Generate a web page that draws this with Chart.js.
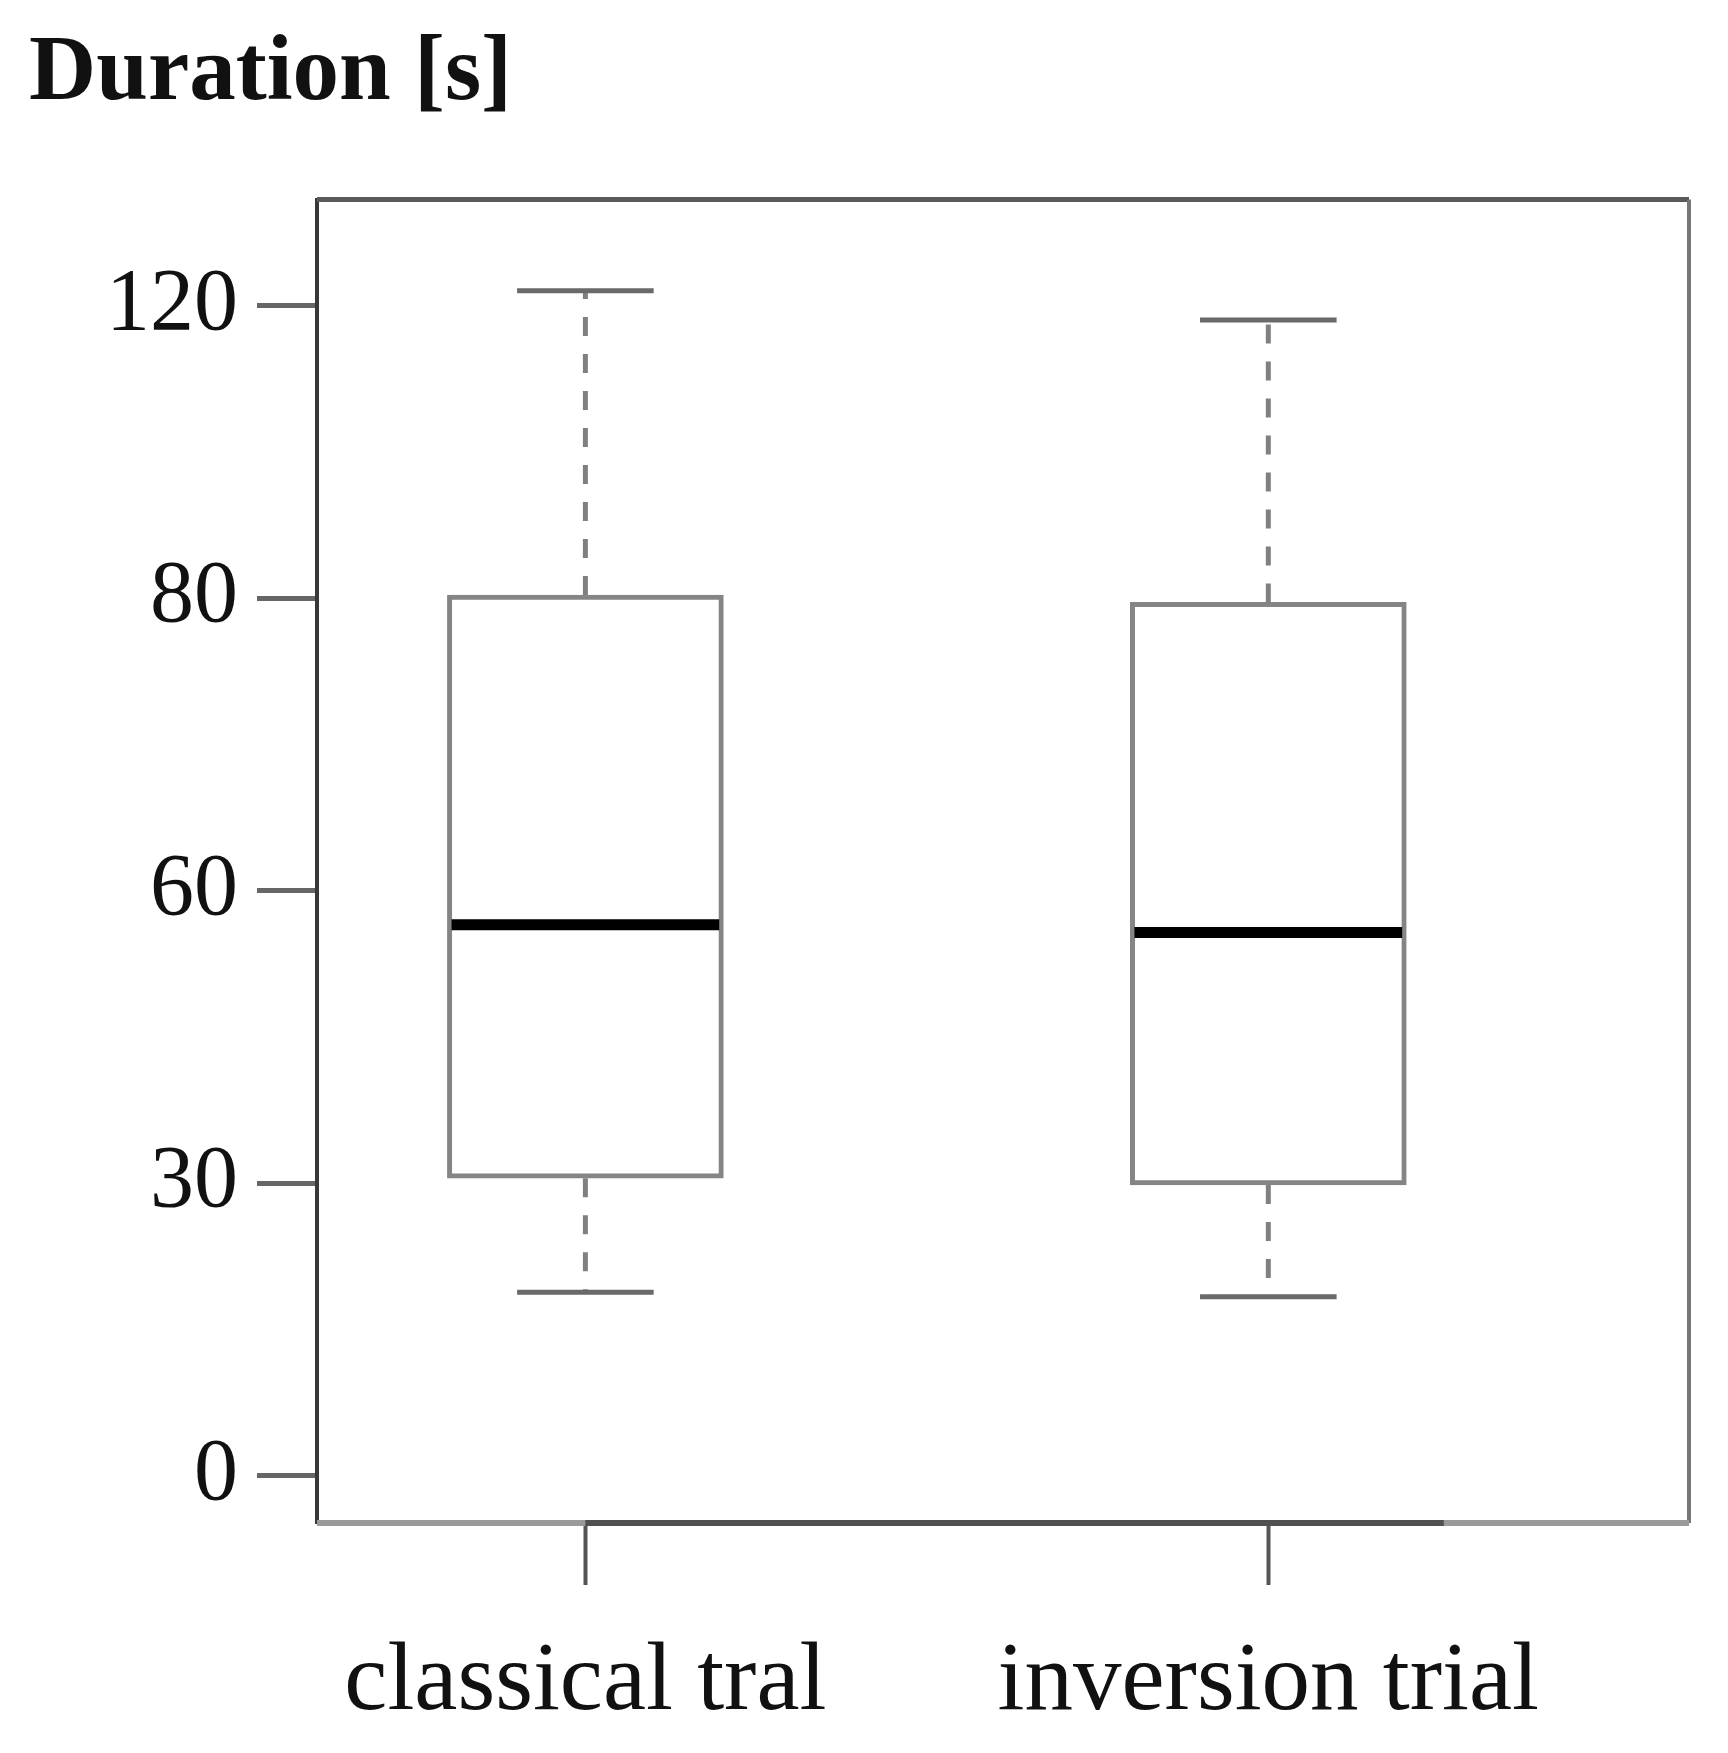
<!DOCTYPE html>
<html>
<head>
<meta charset="utf-8">
<script src="https://cdn.jsdelivr.net/npm/chart.js@4.4.1/dist/chart.umd.min.js"></script>
<style>
  html, body { margin: 0; padding: 0; background: #fff; }
  #wrap { width: 1728px; height: 1753px; }
</style>
</head>
<body>
<div id="wrap"><canvas id="grafico"></canvas></div>
<script>
// data (seconds)
const categorias = ['classical tral', 'inversion trial'];
const minimos = [18.8, 18.35];
const q1 = [30.5, 29.8];
const medianas = [56.5, 55.7];
const q3 = [80.4, 79.7];
const maximos = [122.0, 118.0];
// the y axis is not linear: ticks are evenly spaced
const yTicks = [0, 30, 60, 80, 120];

// value -> position on the evenly spaced tick axis
function posicao(v) {
  const n = yTicks.length;
  let i = 0;
  if (v >= yTicks[n - 1]) i = n - 2;
  else while (i < n - 2 && v > yTicks[i + 1]) i++;
  return i + (v - yTicks[i]) / (yTicks[i + 1] - yTicks[i]);
}

const serif = "'Liberation Serif', 'DejaVu Serif', serif";
const capMeia = 0.1;

const caixas = categorias.map((c, i) => ({ x: i, y: [posicao(q1[i]), posicao(q3[i])] }));
const bigodes = [];
const tampas = [];
const linhasMediana = [];
categorias.forEach((c, i) => {
  bigodes.push({ x: i, y: posicao(q3[i]) }, { x: i, y: posicao(maximos[i]) }, { x: i, y: null });
  bigodes.push({ x: i, y: posicao(q1[i]) }, { x: i, y: posicao(minimos[i]) }, { x: i, y: null });
  tampas.push({ x: i - capMeia, y: posicao(maximos[i]) }, { x: i + capMeia, y: posicao(maximos[i]) }, { x: i, y: null });
  tampas.push({ x: i - capMeia, y: posicao(minimos[i]) }, { x: i + capMeia, y: posicao(minimos[i]) }, { x: i, y: null });
  linhasMediana.push({ x: i - 0.196, y: posicao(medianas[i]) }, { x: i + 0.196, y: posicao(medianas[i]) }, { x: i, y: null });
});

// frame around the plot, with the darker R-style axis segment at the bottom
const moldura = {
  id: 'moldura',
  beforeDatasetsDraw(chart) {
    const { ctx, chartArea: a, scales } = chart;
    ctx.save();
    ctx.lineCap = 'butt';
    ctx.strokeStyle = '#5a5a5a';
    ctx.lineWidth = 5;
    ctx.beginPath(); ctx.moveTo(a.left, a.top); ctx.lineTo(a.right, a.top); ctx.stroke();
    ctx.strokeStyle = '#777';
    ctx.lineWidth = 4;
    ctx.beginPath(); ctx.moveTo(a.right, a.top); ctx.lineTo(a.right, a.bottom); ctx.stroke();
    ctx.strokeStyle = '#9a9a9a';
    ctx.lineWidth = 6;
    ctx.beginPath(); ctx.moveTo(a.left, a.bottom); ctx.lineTo(a.right, a.bottom); ctx.stroke();
    ctx.strokeStyle = '#505050';
    ctx.beginPath();
    ctx.moveTo(scales.x.getPixelForValue(0), a.bottom);
    ctx.lineTo(scales.x.getPixelForValue(1.257), a.bottom);
    ctx.stroke();
    ctx.restore();
  }
};

new Chart(document.getElementById('grafico'), {
  data: {
    datasets: [
      {
        type: 'bar',
        data: caixas,
        backgroundColor: '#ffffff',
        borderColor: '#858585',
        borderWidth: 5,
        borderSkipped: false,
        barThickness: 276,
        order: 4
      },
      {
        type: 'line',
        data: bigodes,
        borderColor: '#808080',
        borderWidth: 5,
        borderDash: [19, 18],
        pointRadius: 0,
        spanGaps: false,
        order: 3
      },
      {
        type: 'line',
        data: tampas,
        borderColor: '#6a6a6a',
        borderWidth: 5,
        pointRadius: 0,
        spanGaps: false,
        order: 2
      },
      {
        type: 'line',
        data: linhasMediana,
        borderColor: '#000000',
        borderWidth: 11,
        pointRadius: 0,
        spanGaps: false,
        order: 1
      }
    ]
  },
  plugins: [moldura],
  options: {
    responsive: true,
    maintainAspectRatio: false,
    animation: false,
    layout: { padding: { left: 29, right: 39, top: 0, bottom: 0 } },
    scales: {
      x: {
        type: 'linear',
        offset: false,
        min: -0.393,
        max: 1.616,
        afterBuildTicks: scale => { scale.ticks = categorias.map((c, i) => ({ value: i })); },
        afterFit: scale => { scale.height = 230; },
        ticks: {
          callback: (v) => categorias[v],
          font: { family: serif, size: 97 },
          color: '#111',
          padding: 40,
          maxRotation: 0,
          autoSkip: false
        },
        grid: {
          offset: false,
          drawOnChartArea: false,
          drawTicks: true,
          tickLength: 62,
          tickWidth: 4,
          tickColor: '#555'
        },
        border: { display: false }
      },
      y: {
        type: 'linear',
        min: -0.162,
        max: 4.362,
        afterBuildTicks: scale => { scale.ticks = yTicks.map((t, i) => ({ value: i })); },
        afterFit: scale => { scale.width = 288; },
        ticks: {
          callback: (v) => yTicks[v],
          font: { family: serif, size: 88 },
          color: '#111',
          padding: 19,
          autoSkip: false
        },
        grid: {
          drawOnChartArea: false,
          drawTicks: true,
          tickLength: 60,
          tickWidth: 5,
          tickColor: '#666'
        },
        border: { display: true, color: '#383838', width: 4 }
      }
    },
    plugins: {
      legend: { display: false },
      tooltip: { enabled: false },
      title: {
        display: true,
        text: 'Duration [s]',
        align: 'start',
        color: '#111',
        font: { family: serif, size: 93, weight: 'bold' },
        padding: { top: 19, bottom: 69 }
      }
    }
  }
});
</script>
</body>
</html>
